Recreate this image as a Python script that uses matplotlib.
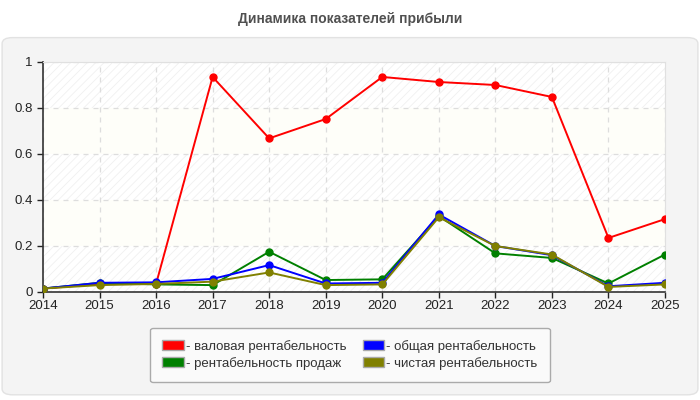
import matplotlib.pyplot as plt
from matplotlib.patches import FancyBboxPatch, Patch
import numpy as np

plt.rcParams['font.family'] = ['Liberation Sans', 'DejaVu Sans']
plt.rcParams['hatch.linewidth'] = 0.6

years = [2014, 2015, 2016, 2017, 2018, 2019, 2020, 2021, 2022, 2023, 2024, 2025]
gross = [0.015, 0.035, 0.035, 0.935, 0.668, 0.752, 0.935, 0.913, 0.900, 0.848, 0.235, 0.317]
sales = [0.015, 0.040, 0.033, 0.030, 0.175, 0.052, 0.055, 0.330, 0.168, 0.148, 0.037, 0.163]
total = [0.015, 0.040, 0.042, 0.057, 0.117, 0.037, 0.040, 0.337, 0.200, 0.160, 0.025, 0.040]
net = [0.015, 0.030, 0.035, 0.045, 0.085, 0.030, 0.033, 0.325, 0.200, 0.163, 0.022, 0.033]

labels = ['- валовая рентабельность', '- рентабельность продаж',
          '- общая рентабельность', '- чистая рентабельность']
colors = ['#ff0000', '#008000', '#0000ff', '#808000']

fig = plt.figure(figsize=(7, 4), dpi=100)
fig.patch.set_facecolor('white')

# grey rounded panel behind the chart
panel = FancyBboxPatch((0.003, 0.013), 0.994, 0.893,
                       boxstyle='round,pad=0,rounding_size=0.015',
                       transform=fig.transFigure, facecolor='#f4f4f4',
                       edgecolor='#e2e2e2', linewidth=1, zorder=-10)
fig.patches.append(panel)

fig.text(0.5, 0.952, 'Динамика показателей прибыли', ha='center', va='center',
         fontsize=10, fontweight='bold', color='#505050')

ax = fig.add_axes([0.0614, 0.27, 0.8886, 0.575])
ax.set_facecolor('white')

# striped background bands
for lo in np.arange(0, 1.0, 0.2):
    idx = int(round(lo / 0.2))
    if idx % 2 == 0:
        ax.axhspan(lo, lo + 0.2, facecolor='white', edgecolor='#f0f0f0',
                   hatch='////', linewidth=0, zorder=0)
    else:
        ax.axhspan(lo, lo + 0.2, facecolor='#fefef9', linewidth=0, zorder=0)

series = [gross, sales, total, net]
for vals, c, lab in zip(series, colors, labels):
    ax.plot(years, vals, color=c, linewidth=1.4, marker='o', markersize=5,
            label=lab, zorder=3)

ax.set_xlim(2014, 2025)
ax.set_ylim(0, 1)
ax.set_xticks(years)
ax.set_yticks([0, 0.2, 0.4, 0.6, 0.8, 1])
ax.set_yticklabels(['0', '0.2', '0.4', '0.6', '0.8', '1'])
ax.grid(True, linestyle=(0, (4, 4)), color='#dddddd', linewidth=0.9, zorder=1)
ax.set_axisbelow(True)

for s in ['top', 'right']:
    ax.spines[s].set_color('#e0e0e0')
for s in ['left', 'bottom']:
    ax.spines[s].set_color('#333333')
    ax.spines[s].set_linewidth(1.2)
ax.tick_params(axis='both', labelsize=9.5, colors='#222222', length=4, width=1)
ax.tick_params(axis='x', pad=2)

handles = [Patch(facecolor=c, edgecolor='#aaaaaa', label=l) for c, l in zip(colors, labels)]
leg = fig.legend(handles=handles, loc='center', bbox_to_anchor=(0.5, 0.1125), ncol=2,
                 fontsize=9.5, frameon=True, fancybox=True, framealpha=1,
                 facecolor='#fafafa', edgecolor='#aaaaaa', handlelength=1.6,
                 handleheight=0.8, handletextpad=0.2, columnspacing=1.2,
                 labelspacing=0.3, borderpad=0.95)
for t in leg.get_texts():
    t.set_color('#333333')

fig.savefig('out.png', dpi=100)
